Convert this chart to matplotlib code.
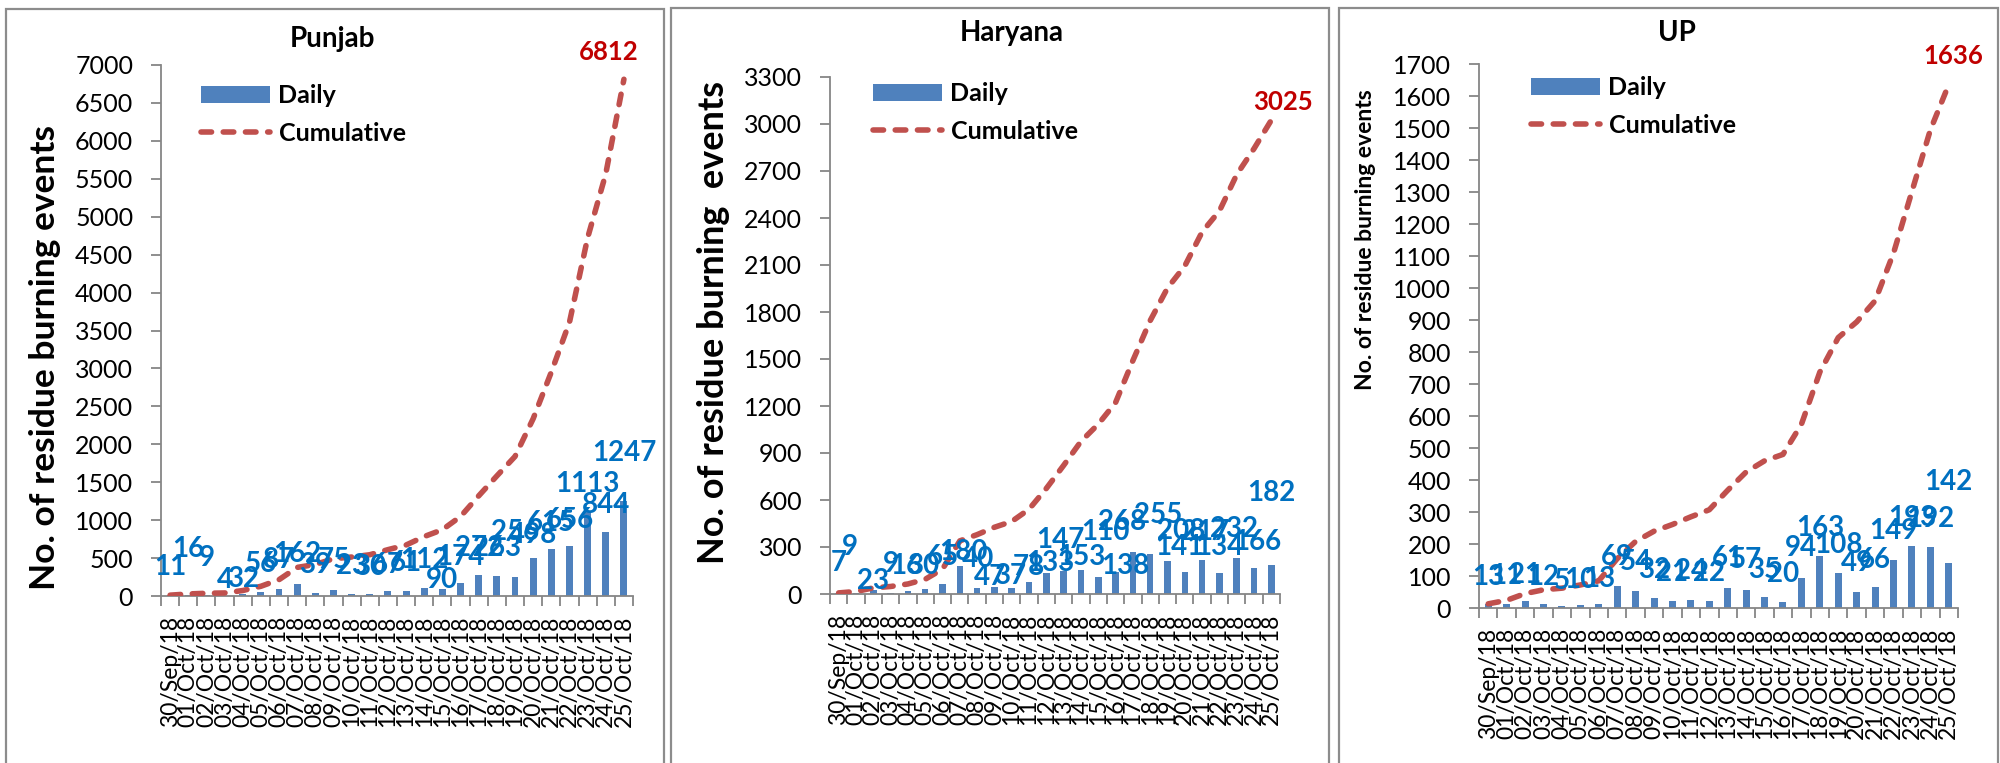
import matplotlib
matplotlib.use('Agg')
import matplotlib.pyplot as plt
from matplotlib.patches import Rectangle

plt.rcParams['font.family'] = ['Lato', 'DejaVu Sans']

dates = ['30/Sep/18', '01/Oct/18', '02/Oct/18', '03/Oct/18', '04/Oct/18', '05/Oct/18',
         '06/Oct/18', '07/Oct/18', '08/Oct/18', '09/Oct/18', '10/Oct/18', '11/Oct/18',
         '12/Oct/18', '13/Oct/18', '14/Oct/18', '15/Oct/18', '16/Oct/18', '17/Oct/18',
         '18/Oct/18', '19/Oct/18', '20/Oct/18', '21/Oct/18', '22/Oct/18', '23/Oct/18',
         '24/Oct/18', '25/Oct/18']

punjab_daily = [11, 16, 9, 4, 32, 56, 87, 162, 39, 75, 23, 30, 67, 61, 112, 90, 174,
                272, 263, 256, 498, 615, 656, 1113, 844, 1247]
punjab_cum = [11, 27, 36, 40, 72, 128, 215, 377, 416, 491, 514, 544, 611, 672, 784, 874,
              1048, 1320, 1583, 1839, 2337, 2952, 3608, 4721, 5565, 6812]

haryana_daily = [7, 9, 23, 9, 16, 30, 65, 180, 40, 47, 37, 78, 133, 147, 153, 110, 138,
                 268, 255, 208, 141, 217, 134, 232, 166, 182]
haryana_cum = [7, 16, 39, 48, 64, 94, 159, 339, 379, 426, 463, 541, 674, 821, 974, 1084,
               1222, 1490, 1745, 1953, 2094, 2311, 2445, 2677, 2843, 3025]

up_daily = [13, 11, 21, 12, 5, 10, 13, 69, 54, 32, 21, 24, 22, 61, 57, 35, 20, 94, 163,
            108, 49, 66, 149, 193, 192, 142]
up_cum = [13, 24, 45, 57, 62, 72, 85, 154, 208, 240, 261, 285, 307, 368, 425, 460, 480,
          574, 737, 845, 894, 960, 1109, 1302, 1494, 1636]

titles = ['Punjab', 'Haryana', 'UP']
ylabels = ['No. of residue burning events', 'No. of residue burning  events',
           'No. of residue burning events']

# ---- layout / style (pixels in a 2000x763 canvas) ----
W, H = 2000, 763
BAR = '#4F81BD'
LINE = '#C0504D'
LBL = '#0070C0'
RED = '#C00000'
GRAY = '#868686'

panels = [
    dict(daily=punjab_daily, cum=punjab_cum, ymax=7000, ystep=500,
         ax=(161, 633, 65, 596), border=(6, 664, 9),
         title_xy=(333, 39), ylab_xy=(45, 358), ylab_size=25.5,
         leg_xy=(201, 84), last_off=(-15, 27),
         dy=[28, 46, 37, 16, 15, 28, 29, 30, 28, 30, 28, 27, 26, 28, 28, 9, 26, 27, 28,
             45, 23, 26, 26, 28, 27, 48],
         dx=[0] * 26),
    dict(daily=haryana_daily, cum=haryana_cum, ymax=3300, ystep=300,
         ax=(830, 1280, 77, 594), border=(671, 1329, 8),
         title_xy=(1012, 33), ylab_xy=(714, 322), ylab_size=26,
         leg_xy=(873, 82), last_off=(12, 18),
         dy=[30, 46, 9, 29, 25, 23, 27, 14, 29, 10, 12, 15, 10, 31, 13, 45, 6, 30, 39,
             30, 25, 28, 26, 29, 26, 72],
         dx=[0, -6, 0, 0, -2, -2, 0, 4, 1, -4, -2, 0, 4, -3, 0, 7, 10, -11, 8, 14, -5,
             3, 0, -3, 3, 0]),
    dict(daily=up_daily, cum=up_cum, ymax=1700, ystep=100,
         ax=(1479, 1958, 64, 608), border=(1339, 1998, 8),
         title_xy=(1677, 33), ylab_xy=(1366, 240), ylab_size=16.5,
         leg_xy=(1531, 76), last_off=(4, 28),
         dy=[27, 28, 26, 27, 25, 25, 25, 29, 29, 28, 28, 29, 28, 30, 30, 27, 28, 30, 28,
             28, 29, 27, 29, 28, 28, 81],
         dx=[0] * 26),
]

fig = plt.figure(figsize=(W / 100, H / 100), dpi=100)
fig.patch.set_facecolor('white')

for i, p in enumerate(panels):
    bx0, bx1, by0 = p['border']
    fig.patches.append(Rectangle((bx0 / W, -0.05), (bx1 - bx0) / W, 1.05 - by0 / H,
                                 transform=fig.transFigure, fill=False,
                                 edgecolor='#8C8C8C', linewidth=1.6, zorder=0))
    x0, x1, yt, yb = p['ax']
    ax = fig.add_axes([x0 / W, 1 - yb / H, (x1 - x0) / W, (yb - yt) / H])
    ax.set_facecolor('none')
    n = len(dates)
    xs = list(range(n))
    bars = ax.bar(xs, p['daily'], width=0.38, color=BAR, zorder=2)
    line, = ax.plot(xs, p['cum'], color=LINE, lw=4.0, dashes=(1.9, 2.1),
                    dash_capstyle='round', zorder=3)
    ax.set_xlim(-0.5, n - 0.5)
    ax.set_ylim(0, p['ymax'])
    ax.set_yticks(list(range(0, p['ymax'] + 1, p['ystep'])))
    ax.tick_params(axis='y', labelsize=18, length=7, width=1.3, color=GRAY, pad=13)
    ax.set_xticks([k - 0.5 for k in range(n + 1)])
    ax.set_xticklabels([])
    ax.tick_params(axis='x', which='major', length=7, width=1.3, color=GRAY)
    ax.set_xticks(xs, minor=True)
    ax.set_xticklabels(dates, minor=True, rotation=90, fontsize=16.5)
    ax.tick_params(axis='x', which='minor', length=0, pad=14)
    for s in ['top', 'right']:
        ax.spines[s].set_visible(False)
    for s in ['left', 'bottom']:
        ax.spines[s].set_color(GRAY)
        ax.spines[s].set_linewidth(1.3)

    for k, v in enumerate(p['daily']):
        ax.annotate(str(v), (k, v), xytext=(p['dx'][k], p['dy'][k]),
                    textcoords='offset pixels', ha='center', va='center',
                    fontsize=20, fontweight='bold', color=LBL, zorder=4,
                    annotation_clip=False)
    ax.annotate(str(p['cum'][-1]), (n - 1, p['cum'][-1]),
                xytext=p['last_off'], textcoords='offset pixels',
                ha='center', va='center', fontsize=18.5, fontweight='bold',
                color=RED, annotation_clip=False)

    lx, ly = p['leg_xy']
    ax.legend([bars, line], ['Daily', 'Cumulative'],
              loc='upper left', bbox_to_anchor=(lx / W, 1 - ly / H),
              bbox_transform=fig.transFigure, frameon=False, borderpad=0,
              borderaxespad=0, handlelength=2.75, handleheight=0.7,
              handletextpad=0.35, labelspacing=0.6,
              prop=dict(size=18, weight='bold'))

    tx, ty = p['title_xy']
    fig.text(tx / W, 1 - ty / H, titles[i], ha='center', va='center',
             fontsize=20, fontweight='bold')
    yx, yy = p['ylab_xy']
    fig.text(yx / W, 1 - yy / H, ylabels[i], ha='center', va='center',
             rotation=90, fontsize=p['ylab_size'], fontweight='bold')

fig.savefig('out.png', dpi=100, facecolor='white')
